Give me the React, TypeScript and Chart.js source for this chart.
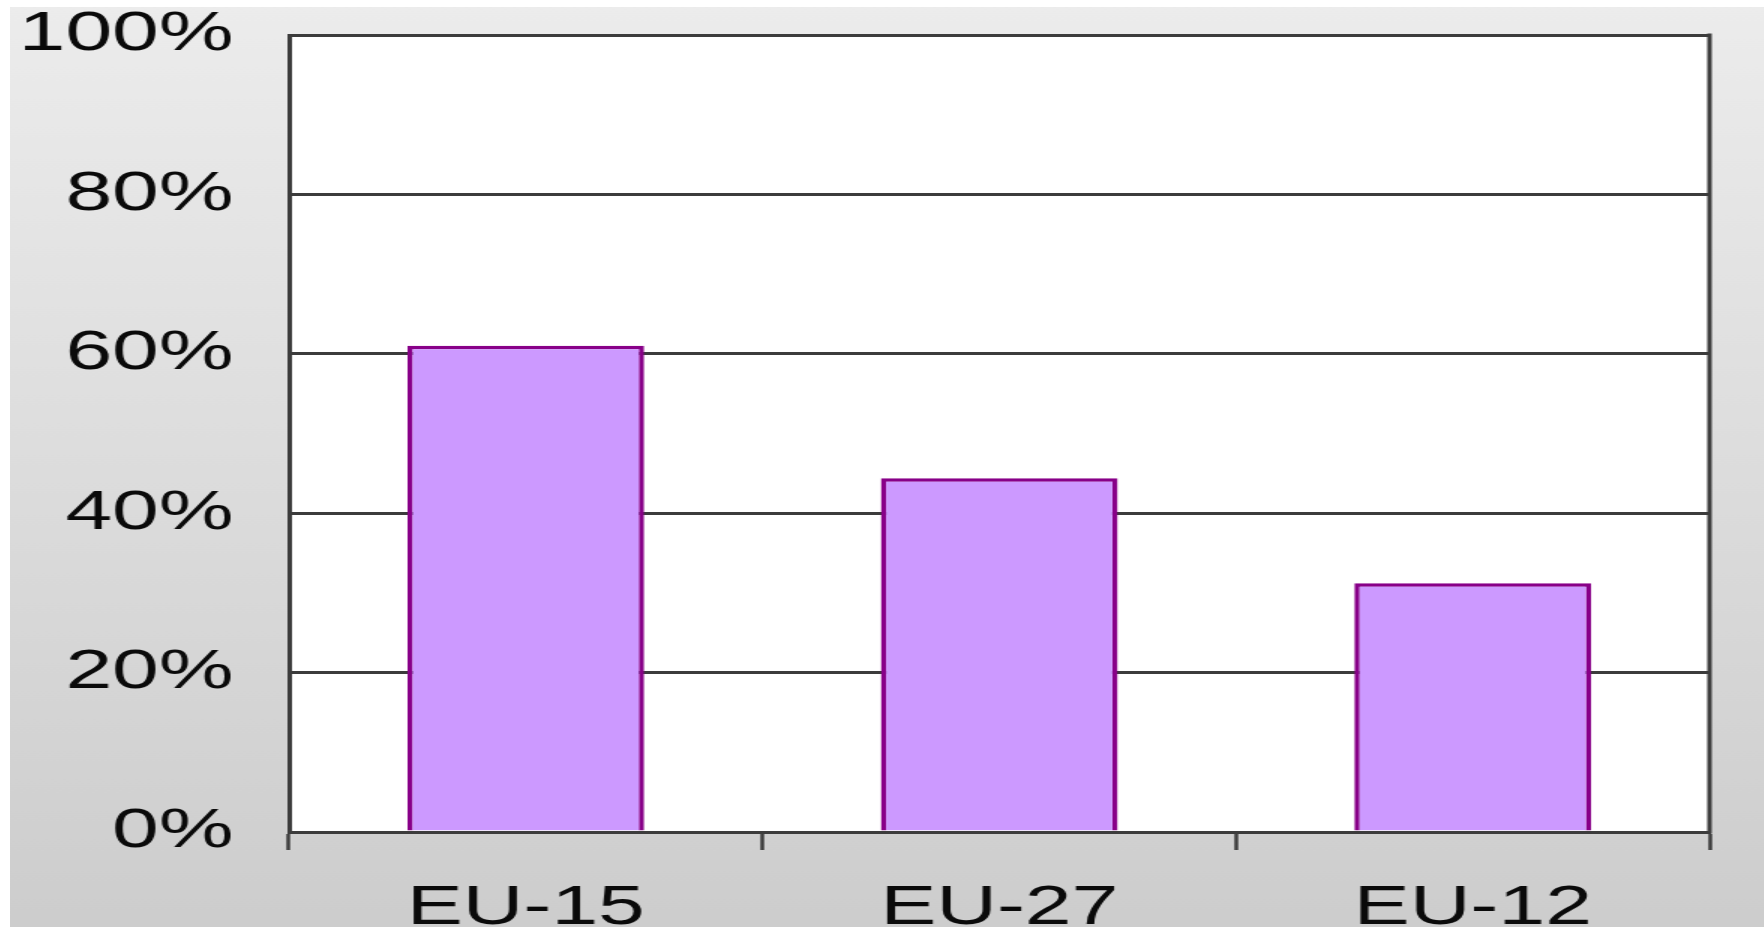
import React, { useEffect, useRef } from "react";
import { Chart, registerables } from "chart.js";

Chart.register(...registerables);

const categories = ["EU-15", "EU-27", "EU-12"];
const shareValues = [61, 44.4, 31.2];
const yTickValues = [0, 20, 40, 60, 80, 100];

const STRETCH_X = 1.5;
const CANVAS_W = 1170;
const CANVAS_H = 960;

const backdrop = {
  id: "backdrop",
  beforeDraw(chart: any) {
    const { ctx, chartArea } = chart;
    ctx.save();
    const g = ctx.createLinearGradient(0, 0, 0, 920);
    g.addColorStop(0, "#ececec");
    g.addColorStop(1, "#cdcdcd");
    ctx.fillStyle = g;
    ctx.fillRect(0, 0, chart.width, chart.height);
    ctx.fillStyle = "#ffffff";
    ctx.fillRect(chartArea.left, chartArea.top, chartArea.right - chartArea.left, chartArea.bottom - chartArea.top);
    ctx.restore();
  },
  afterDraw(chart: any) {
    const { ctx, chartArea } = chart;
    ctx.save();
    ctx.strokeStyle = "#3c3c3c";
    ctx.lineWidth = 3;
    ctx.beginPath();
    ctx.moveTo(chartArea.right, chartArea.top - 1.5);
    ctx.lineTo(chartArea.right, chartArea.bottom + 1.5);
    ctx.stroke();
    ctx.restore();
  },
};

export default function App() {
  const ref = useRef<HTMLCanvasElement | null>(null);

  useEffect(() => {
    if (!ref.current) return;
    const font = { family: "'Liberation Sans', Arial, sans-serif", size: 56 };
    const chart = new Chart(ref.current, {
      type: "bar",
      data: {
        labels: categories,
        datasets: [
          {
            data: shareValues,
            backgroundColor: "#cc99ff",
            borderColor: "#880088",
            borderWidth: 3.5,
            barPercentage: 0.5,
            categoryPercentage: 1,
          },
        ],
      },
      options: {
        responsive: false,
        animation: false,
        devicePixelRatio: 1,
        layout: { padding: { left: 0, right: 37, top: 0, bottom: 0 } },
        plugins: { legend: { display: false }, tooltip: { enabled: false } },
        scales: {
          x: {
            offset: true,
            grid: {
              offset: true,
              drawOnChartArea: false,
              drawTicks: true,
              tickLength: 18,
              tickColor: "#3c3c3c",
              tickWidth: 2.5,
            },
            border: { display: true, color: "#3c3c3c", width: 3 },
            ticks: { font: { ...font, lineHeight: 1.2 }, color: "#0a0a0a", padding: 25, maxRotation: 0 },
            afterFit(scale: any) {
              scale.height = 135;
            },
          },
          y: {
            min: 0,
            max: 100,
            afterBuildTicks(scale: any) {
              scale.ticks = yTickValues.map((v) => ({ value: v }));
            },
            grid: {
              color: "#3c3c3c",
              lineWidth: 3,
              drawTicks: true,
              tickLength: 37,
              tickColor: "rgba(0,0,0,0)",
            },
            border: { display: true, color: "#3c3c3c", width: 3 },
            ticks: {
              font: { ...font, lineHeight: 1 },
              color: "#0a0a0a",
              padding: 0,
              callback: (v: any) => `${v}%`,
            },
            afterFit(scale: any) {
              scale.width = 186;
            },
          },
        },
      },
      plugins: [backdrop],
    });
    return () => chart.destroy();
  }, []);

  return (
    <div
      style={{
        position: "absolute",
        left: 10,
        top: 7,
        width: 1754,
        height: 920,
        overflow: "hidden",
      }}
    >
      <div
        style={{
          width: CANVAS_W,
          height: CANVAS_H,
          transform: `scaleX(${STRETCH_X})`,
          transformOrigin: "0 0",
        }}
      >
        <canvas ref={ref} width={CANVAS_W} height={CANVAS_H} />
      </div>
    </div>
  );
}
